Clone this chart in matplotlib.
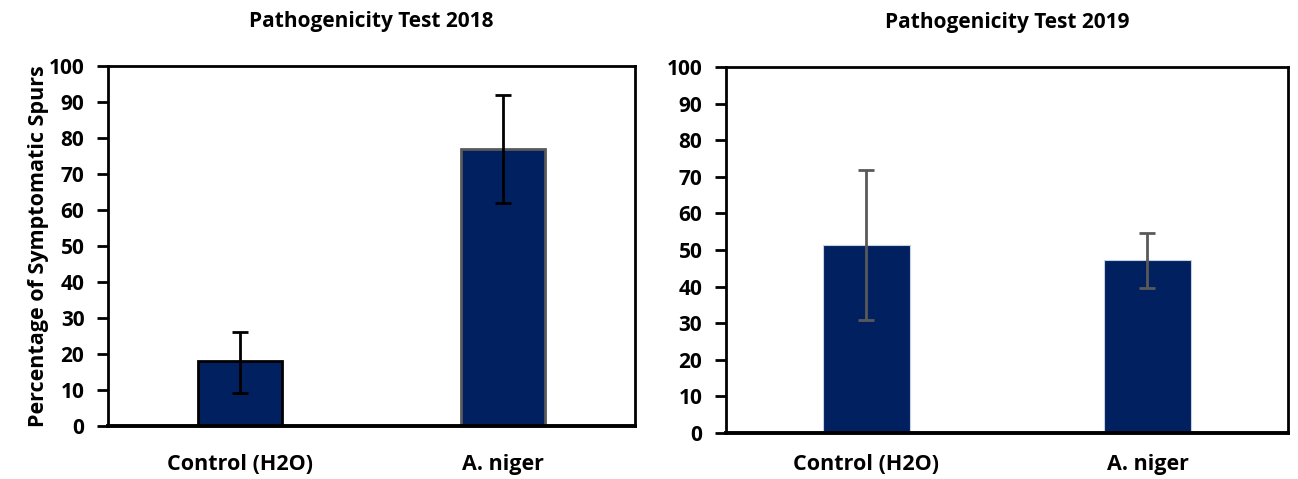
import numpy as np
import matplotlib.pyplot as plt

# Datos por año: media y barras de error (inferior / superior)
categorias = ['Control (H2O)', 'A. niger']
media_2018 = [18, 77]
err_inf_2018 = [8.7, 15]
err_sup_2018 = [8.0, 15]
media_2019 = [51.5, 47.3]
err_inf_2019 = [20.5, 7.6]
err_sup_2019 = [20.5, 7.4]
yticks = np.arange(0, 101, 10)

azul = '#002060'
gris = '#595959'

plt.rcParams['font.family'] = ['Open Sans', 'DejaVu Sans']

fig = plt.figure(figsize=(12.98, 4.79), dpi=100)
ax1 = fig.add_axes([0.0832, 0.1106, 0.406, 0.7516])
ax2 = fig.add_axes([0.5593, 0.096, 0.433, 0.764])

x = np.arange(len(categorias))

# 2018
ax1.bar(x, media_2018, width=0.32, color=azul,
        edgecolor=['black', gris], linewidth=2)
ax1.errorbar(x, media_2018, yerr=[err_inf_2018, err_sup_2018], fmt='none',
             ecolor='black', elinewidth=2, capsize=6, capthick=2)
ax1.set_title('Pathogenicity Test 2018', fontsize=15, fontweight='bold', pad=28)
ax1.set_ylabel('Percentage of Symptomatic Spurs', fontsize=15.5, fontweight='bold',
               labelpad=0)

# 2019
ax2.bar(x, media_2019, width=0.31, color=azul, edgecolor='#c8d0e0', linewidth=0.8)
ax2.errorbar(x, media_2019, yerr=[err_inf_2019, err_sup_2019], fmt='none',
             ecolor=gris, elinewidth=2, capsize=6, capthick=2)
ax2.set_title('Pathogenicity Test 2019', fontsize=15, fontweight='bold', pad=28)

for ax, pad in ((ax1, 20), (ax2, 15)):
    ax.set_xlim(-0.5, 1.5)
    ax.set_ylim(0, 100)
    ax.set_yticks(yticks)
    ax.set_xticks(x)
    ax.set_xticklabels(categorias, fontsize=15.5, fontweight='bold')
    ax.tick_params(axis='x', length=0, pad=pad)
    ax.tick_params(axis='y', direction='out', length=8, width=2, labelsize=15, pad=9)
    for lbl in ax.get_yticklabels():
        lbl.set_fontweight('bold')
    for s in ax.spines.values():
        s.set_linewidth(2)
        s.set_color('black')
    ax.spines['bottom'].set_linewidth(2.8)

fig.savefig('out.png', dpi=100)
